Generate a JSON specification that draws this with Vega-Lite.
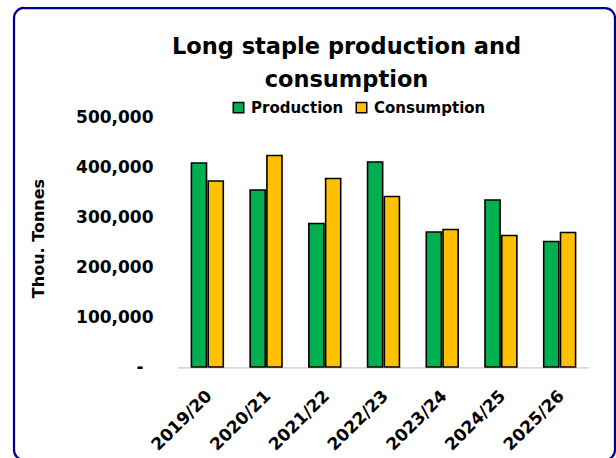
{
  "$schema": "https://vega.github.io/schema/vega-lite/v6.json",
  "autosize": {"type": "none"},
  "padding": {"left": 14, "top": 8, "right": 1, "bottom": 0},
  "width": 601,
  "height": 452,
  "background": "white",
  "config": {
    "view": {"stroke": "#000090", "strokeWidth": 2.25, "cornerRadius": 10, "fill": "white"},
    "font": "DejaVu Sans"
  },
  "title": {
    "text": ["Long staple production and", "consumption"],
    "font": "DejaVu Sans",
    "fontSize": 22.5,
    "fontWeight": "bold",
    "color": "black",
    "anchor": "middle",
    "frame": "group",
    "baseline": "alphabetic",
    "lineHeight": 33,
    "offset": 0,
    "dx": 32,
    "dy": 101
  },
  "data": {
    "values": [
      {"period": "2019/20", "series": "Production", "value": 408000},
      {"period": "2019/20", "series": "Consumption", "value": 372000},
      {"period": "2020/21", "series": "Production", "value": 354000},
      {"period": "2020/21", "series": "Consumption", "value": 423000},
      {"period": "2021/22", "series": "Production", "value": 287000},
      {"period": "2021/22", "series": "Consumption", "value": 377000},
      {"period": "2022/23", "series": "Production", "value": 410000},
      {"period": "2022/23", "series": "Consumption", "value": 341000},
      {"period": "2023/24", "series": "Production", "value": 270000},
      {"period": "2023/24", "series": "Consumption", "value": 275000},
      {"period": "2024/25", "series": "Production", "value": 334000},
      {"period": "2024/25", "series": "Consumption", "value": 263000},
      {"period": "2025/26", "series": "Production", "value": 251000},
      {"period": "2025/26", "series": "Consumption", "value": 269000}
    ]
  },
  "encoding": {
    "x": {
      "field": "period",
      "type": "nominal",
      "sort": null,
      "scale": {"range": [164, 575], "paddingInner": 0, "paddingOuter": 0},
      "axis": {
        "orient": "bottom",
        "offset": -93,
        "title": null,
        "domain": false,
        "ticks": false,
        "labelAngle": -45,
        "labelAlign": "right",
        "labelBaseline": "middle",
        "labelPadding": 26,
        "labelOffset": 2,
        "labelFont": "DejaVu Sans",
        "labelFontWeight": "bold",
        "labelFontSize": 17,
        "labelColor": "black"
      }
    }
  },
  "layer": [
    {
      "mark": {"type": "rect", "fill": "#D9D9D9"},
      "encoding": {
        "y": {"datum": 0, "type": "quantitative", "scale": {"domain": [-186000, 718000], "nice": false, "zero": false}},
        "y2": {"datum": -3000}
      }
    },
    {
      "mark": {"type": "bar", "stroke": "black", "strokeWidth": 1.6},
      "encoding": {
        "xOffset": {
          "field": "series",
          "type": "nominal",
          "sort": ["Production", "Consumption"],
          "scale": {"paddingInner": 0.1, "paddingOuter": 0.8}
        },
        "y": {
          "field": "value",
          "type": "quantitative",
          "scale": {"domain": [-186000, 718000], "nice": false, "zero": false},
          "axis": {
            "orient": "left",
            "offset": -139,
            "values": [0, 100000, 200000, 300000, 400000, 500000],
            "labelExpr": "datum.value == 0 ? '-' : format(datum.value, ',')",
            "grid": false,
            "domain": false,
            "ticks": false,
            "tickSize": 0,
            "labelPadding": {"condition": {"test": "datum.value === 0", "value": 10}, "value": 0},
            "labelBaseline": "middle",
            "labelFont": "DejaVu Sans",
            "labelFontWeight": "bold",
            "labelFontSize": 17,
            "labelColor": "black",
            "title": "Thou. Tonnes",
            "titleFont": "DejaVu Sans",
            "titleFontWeight": "bold",
            "titleFontSize": 16,
            "titleColor": "black",
            "titleX": -115,
            "titleY": 230,
            "titleAngle": -90,
            "titleAlign": "center",
            "titleBaseline": "middle"
          }
        },
        "y2": {"datum": 0},
        "color": {
          "field": "series",
          "type": "nominal",
          "scale": {"domain": ["Production", "Consumption"], "range": ["#00B050", "#FFC000"]},
          "legend": {
            "orient": "none",
            "legendX": 217,
            "legendY": 92,
            "direction": "horizontal",
            "title": null,
            "padding": 0,
            "symbolType": "square",
            "symbolSize": 110,
            "symbolStrokeColor": "black",
            "symbolStrokeWidth": 1.5,
            "symbolOpacity": 1,
            "labelFont": "DejaVu Sans",
            "labelFontWeight": "bold",
            "labelFontSize": 15,
            "labelColor": "black",
            "labelOffset": 5,
            "columnPadding": 9
          }
        }
      }
    }
  ]
}
